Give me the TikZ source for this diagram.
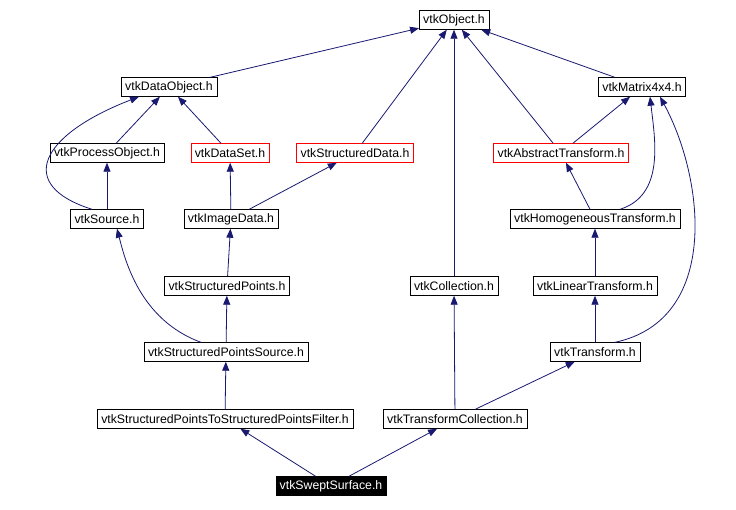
\documentclass[tikz,border=0pt]{standalone}
\usepackage{fontspec}
\setmainfont{Liberation Sans}
\usetikzlibrary{arrows.meta}
\definecolor{edgeblue}{RGB}{25,25,112}
\begin{document}
\begin{tikzpicture}[x=1pt,y=-1pt]
                \tikzstyle{every node}=[rectangle, draw=black, fill=white, inner xsep=4pt, inner ysep=3pt, minimum height=19pt, font=\fontsize{12.3}{13}\selectfont, text=black]
                \tikzstyle{red node}=[draw=red]
                \tikzstyle{edge}=[edgeblue, line width=0.8pt, -{Triangle[length=9pt,width=7pt]}]
                \useasboundingbox (0,0) rectangle (736,509);

                \node (obj) at (454,20) {vtkObject.h};
                \node (dobj) at (169,87) {vtkDataObject.h};
                \node (mat) at (642,87) {vtkMatrix4x4.h};
                \node (pobj) at (107,153) {vtkProcessObject.h};
                \node[red node] (dset) at (230,153) {vtkDataSet.h};
                \node[red node] (sdata) at (355,153) {vtkStructuredData.h};
                \node[red node] (atr) at (561,153) {vtkAbstractTransform.h};
                \node (src) at (107,219) {vtkSource.h};
                \node (img) at (231,219) {vtkImageData.h};
                \node (htr) at (595,219) {vtkHomogeneousTransform.h};
                \node (spts) at (227,286) {vtkStructuredPoints.h};
                \node (coll) at (454,286) {vtkCollection.h};
                \node (ltr) at (595,286) {vtkLinearTransform.h};
                \node (spsrc) at (226,352) {vtkStructuredPointsSource.h};
                \node (tr) at (595,352) {vtkTransform.h};
                \node (filt) at (225,419) {vtkStructuredPointsToStructuredPointsFilter.h};
                \node (tcoll) at (455,419) {vtkTransformCollection.h};
                \node[fill=black, text=white] (swept) at (331,486) {vtkSweptSurface.h};

                \draw[edge] (dobj) -- (obj);
                \draw[edge] (sdata) -- (obj);
                \draw[edge] (coll) -- (obj);
                \draw[edge] (atr) -- (obj);
                \draw[edge] (mat) -- (obj);
                \draw[edge] (pobj) -- (dobj);
                \draw[edge] (dset) -- (dobj);
                \draw[edge] ([xshift=-15pt]src.north) .. controls (15,185) and (40,135) .. ([xshift=-30pt]dobj.south);
                \draw[edge] (src) -- (pobj);
                \draw[edge] (img) -- (dset);
                \draw[edge] (img) -- (sdata);
                \draw[edge] (atr) -- (mat);
                \draw[edge] (htr) -- (atr);
                \draw[edge] ([xshift=25pt]htr.north) .. controls (665,195) and (655,140) .. ([xshift=8pt]mat.south);
                \draw[edge] ([xshift=20pt]tr.north) .. controls (720,320) and (705,180) .. ([xshift=18pt]mat.south);
                \draw[edge] (spts) -- (img);
                \draw[edge] (spsrc) -- (spts);
                \draw[edge] ([xshift=-25pt]spsrc.north) .. controls (140,320) and (125,260) .. ([xshift=10pt]src.south);
                \draw[edge] (ltr) -- (htr);
                \draw[edge] (tr) -- (ltr);
                \draw[edge] (filt) -- (spsrc);
                \draw[edge] (tcoll) -- (coll);
                \draw[edge] (tcoll) -- (tr);
                \draw[edge] (swept) -- (filt);
                \draw[edge] (swept) -- (tcoll);
\end{tikzpicture}
\end{document}
